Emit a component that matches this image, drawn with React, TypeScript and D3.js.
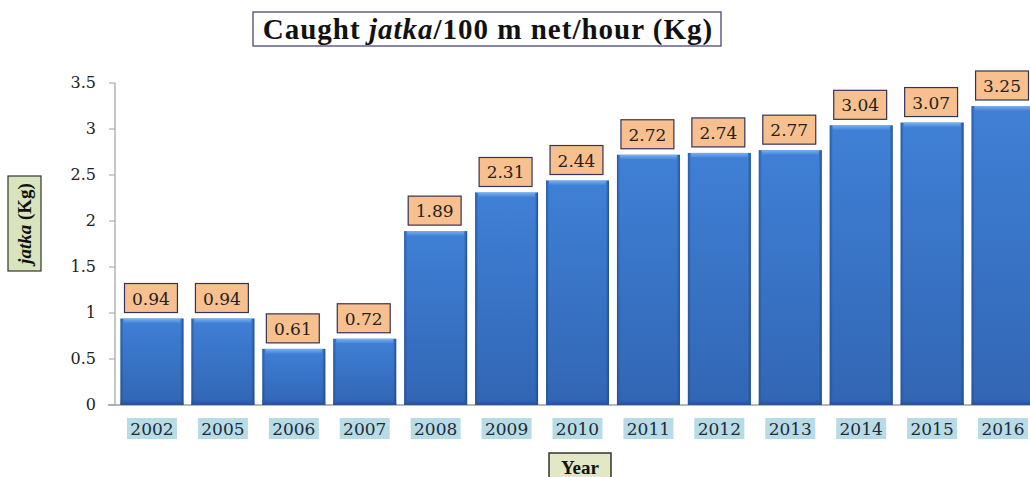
import React from "react";
import * as d3 from "d3";

const years = ["2002","2005","2006","2007","2008","2009","2010","2011","2012","2013","2014","2015","2016"];
const values = [0.94,0.94,0.61,0.72,1.89,2.31,2.44,2.72,2.74,2.77,3.04,3.07,3.25];
const yTicks = [0,0.5,1,1.5,2,2.5,3,3.5];

export default function App() {
  const W = 1030, H = 477;
  const x = d3.scaleBand<string>().domain(years).range([116, 116 + 13 * 71]).paddingInner(8 / 71).paddingOuter(4 / 71 / (1 - 8 / 71));
  const y = d3.scaleLinear().domain([0, 3.5]).range([405, 83]);
  const font = "'Liberation Serif', 'Times New Roman', serif";
  const numFont = "'DejaVu Serif', serif";
  const bw = x.bandwidth();
  return (
    <svg width={W} height={H} style={{ position: "absolute", left: 0, top: 0, background: "#fff" }}>
      <defs>
        <linearGradient id="barMain" x1="0" x2="0" y1="0" y2="1">
          <stop offset="0" stopColor="#3F80D6" />
          <stop offset="1" stopColor="#3266B4" />
        </linearGradient>
        <linearGradient id="barH" x1="0" x2="1" y1="0" y2="0">
          <stop offset="0" stopColor="#1E4A8C" stopOpacity="0.7" />
          <stop offset="0.05" stopColor="#1E4A8C" stopOpacity="0" />
          <stop offset="0.95" stopColor="#1E4A8C" stopOpacity="0" />
          <stop offset="1" stopColor="#1A3F78" stopOpacity="0.8" />
        </linearGradient>
        <linearGradient id="barV" x1="0" x2="0" y1="0" y2="1">
          <stop offset="0" stopColor="#7AB0F0" />
          <stop offset="1" stopColor="#3F80D6" />
        </linearGradient>
        <linearGradient id="barB" x1="0" x2="0" y1="0" y2="1">
          <stop offset="0" stopColor="#2A5A9E" stopOpacity="0" />
          <stop offset="1" stopColor="#244F8E" stopOpacity="0.9" />
        </linearGradient>
      </defs>
      {/* title */}
      <rect x={253} y={12} width={468} height={34} fill="#fff" stroke="#3A3A6A" strokeWidth={1.2} />
      <text x={488} y={39} textAnchor="middle" fontFamily={font} fontWeight="bold" fontSize={29} letterSpacing={1} fill="#111">
        Caught <tspan fontStyle="italic">jatka</tspan>/100 m net/hour (Kg)
      </text>
      {/* axes */}
      <line x1={115} x2={115} y1={83} y2={405} stroke="#A0A0A0" strokeWidth={1.2} />
      <line x1={108} x2={W} y1={405} y2={405} stroke="#A0A0A0" strokeWidth={1.5} />
      {yTicks.map(t => (
        <g key={t}>
          <line x1={109} x2={115} y1={y(t)} y2={y(t)} stroke="#A0A0A0" />
          <text x={96} y={y(t) + 5} textAnchor="end" fontFamily={numFont} fontSize={16} fill="#222">{t}</text>
        </g>
      ))}
      {/* bars */}
      {years.map((yr, i) => {
        const bx = x(yr)!;
        const by = y(values[i]);
        const bh = 405 - by;
        return (
          <g key={yr}>
            <rect x={bx} y={by} width={bw} height={bh} fill="url(#barMain)" />
            <rect x={bx} y={by} width={bw} height={bh} fill="url(#barH)" />
            <rect x={bx + 3} y={by} width={bw - 6} height={5} fill="url(#barV)" />
            <rect x={bx} y={405 - 6} width={bw} height={6} fill="url(#barB)" />
            <rect x={bx + 4} y={by - 35} width={bw - 10} height={29} fill="#F9C08F" stroke="#333355" strokeWidth={1.2} />
            <text x={bx + 4 + (bw - 10) / 2} y={by - 14} textAnchor="middle" fontFamily={numFont} fontSize={17} fill="#222">{values[i].toFixed(2)}</text>
            <rect x={bx + bw / 2 - 25} y={418} width={50} height={21} fill="#B7DCE6" />
            <text x={bx + bw / 2} y={435} textAnchor="middle" fontFamily={numFont} fontSize={17} fill="#1F2A3A">{yr}</text>
          </g>
        );
      })}
      {/* y title */}
      <rect x={8} y={176} width={33} height={95} fill="#D8E4BC" stroke="#333" strokeWidth={1.2} />
      <text transform="translate(31,223.5) rotate(-90)" textAnchor="middle" fontFamily={font} fontWeight="bold" fontSize={19} fill="#111">
        <tspan fontStyle="italic">jatka</tspan> (Kg)
      </text>
      {/* x title */}
      <rect x={549} y={453} width={62} height={30} fill="#E2E8C4" stroke="#333" strokeWidth={1.5} />
      <text x={580} y={474} textAnchor="middle" fontFamily={font} fontWeight="bold" fontSize={19} fill="#111">Year</text>
    </svg>
  );
}
